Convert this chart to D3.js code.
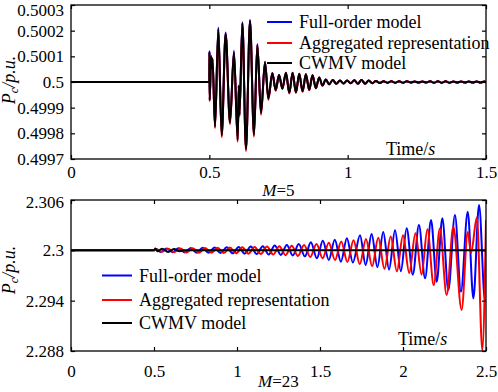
<!DOCTYPE html>
<html>
<head>
<meta charset="utf-8">
<script src="https://cdn.jsdelivr.net/npm/d3@7"></script>
<style>
  body { margin: 0; background: #fff; }
  svg text { font-family: 'Liberation Serif', 'Times New Roman', Times, serif; font-size: 17px; fill: #000; }
  svg text.big { font-size: 18px; }
</style>
</head>
<body>
<svg id="fig" width="498" height="392" font-family="Liberation Serif"></svg>
<script>
// ---------- top panel (M=5) : extremes ----------
const topT = [
  0, 0.5, 0.5005, 0.5012, 0.5065, 0.509, 0.5115, 0.5205, 0.5325, 0.5446,
  0.559, 0.5747, 0.589, 0.6024, 0.6065, 0.609, 0.6193, 0.6325, 0.647, 0.6614,
  0.6735, 0.6867, 0.7012, 0.7133, 0.7277, 0.7398, 0.752, 0.764, 0.777, 0.789,
  0.801, 0.813, 0.825, 0.837, 0.849, 0.861, 0.873, 0.885, 0.897, 0.909,
  0.921, 0.933, 0.946, 0.959, 0.972, 0.985, 0.998, 1.011, 1.024, 1.037,
  1.05, 1.063, 1.076, 1.089, 1.102, 1.116, 1.13, 1.144, 1.158, 1.172,
  1.186, 1.2, 1.214, 1.228, 1.242, 1.256, 1.27, 1.284, 1.298, 1.312,
  1.326, 1.34, 1.354, 1.368, 1.382, 1.396, 1.41, 1.424, 1.438, 1.452,
  1.466, 1.48, 1.494, 1.5];
const topCwmv = [
  0.5, 0.5, 0.500117, 0.49993, 0.500098, 0.500055, 0.50009, 0.499826, 0.500206, 0.499792,
  0.500188, 0.499842, 0.500115, 0.499774, 0.499985, 0.499872, 0.500229, 0.499739, 0.500238, 0.499794,
  0.500144, 0.499879, 0.500077, 0.499936, 0.500034, 0.499969, 0.500027, 0.499975, 0.500036, 0.499958,
  0.500036, 0.49996, 0.500032, 0.499964, 0.50003, 0.49997, 0.500026, 0.499976, 0.500018, 0.499986,
  0.50001, 0.499991, 0.500008, 0.499993, 0.500006, 0.499994, 0.500006, 0.499995, 0.500007, 0.499993,
  0.500008, 0.499993, 0.500006, 0.499995, 0.500004, 0.499996, 0.500003, 0.499997, 0.500003, 0.499997,
  0.500003, 0.499997, 0.500003, 0.499998, 0.500002, 0.499998, 0.500002, 0.499998, 0.500003, 0.499997,
  0.500003, 0.499997, 0.500003, 0.499997, 0.500002, 0.499998, 0.500002, 0.499998, 0.500002, 0.499998,
  0.500002, 0.499998, 0.500002, 0.5];
const topFull = [
  0.5, 0.5, 0.500121, 0.49993, 0.500102, 0.500055, 0.500093, 0.499828, 0.500212, 0.499795,
  0.500193, 0.499845, 0.500122, 0.499776, 0.499985, 0.499872, 0.500233, 0.499742, 0.500242, 0.499797,
  0.500148, 0.499881, 0.500079, 0.499937, 0.500035, 0.499969, 0.500027, 0.499975, 0.500036, 0.499958,
  0.500036, 0.49996, 0.500032, 0.499964, 0.50003, 0.49997, 0.500026, 0.499976, 0.500018, 0.499986,
  0.50001, 0.499991, 0.500008, 0.499993, 0.500006, 0.499994, 0.500006, 0.499995, 0.500007, 0.499993,
  0.500008, 0.499993, 0.500006, 0.499995, 0.500004, 0.499996, 0.500003, 0.499997, 0.500003, 0.499997,
  0.500003, 0.499997, 0.500003, 0.499998, 0.500002, 0.499998, 0.500002, 0.499998, 0.500003, 0.499997,
  0.500003, 0.499997, 0.500003, 0.499997, 0.500002, 0.499998, 0.500002, 0.499998, 0.500002, 0.499998,
  0.500002, 0.499998, 0.500002, 0.5];
const topAgg = [
  0.5, 0.5, 0.500115, 0.499925, 0.500097, 0.500055, 0.500089, 0.49982, 0.500204, 0.499785,
  0.500186, 0.499835, 0.500113, 0.499767, 0.499985, 0.499866, 0.500228, 0.499731, 0.500236, 0.499787,
  0.500146, 0.499872, 0.500076, 0.49993, 0.500034, 0.499966, 0.500027, 0.499973, 0.500036, 0.499955,
  0.500036, 0.499957, 0.500032, 0.499962, 0.50003, 0.499968, 0.500026, 0.499976, 0.500018, 0.499986,
  0.50001, 0.499991, 0.500008, 0.499993, 0.500006, 0.499994, 0.500006, 0.499995, 0.500007, 0.499993,
  0.500008, 0.499993, 0.500006, 0.499995, 0.500004, 0.499996, 0.500003, 0.499997, 0.500003, 0.499997,
  0.500003, 0.499997, 0.500003, 0.499998, 0.500002, 0.499998, 0.500002, 0.499998, 0.500003, 0.499997,
  0.500003, 0.499997, 0.500003, 0.499997, 0.500002, 0.499998, 0.500002, 0.499998, 0.500002, 0.499998,
  0.500002, 0.499998, 0.500002, 0.5];

const topXTicks = [0, 0.5, 1, 1.5];
const topXLabels = ["0", "0.5", "1", "1.5"];
const topYTicks = [0.4997, 0.4998, 0.4999, 0.5, 0.5001, 0.5002, 0.5003];
const topYLabels = ["0.4997", "0.4998", "0.4999", "0.5", "0.5001", "0.5002", "0.5003"];

// ---------- bottom panel (M=23) ----------
const botFullT = [
  0, 0.5, 0.512, 0.54, 0.576, 0.612, 0.648, 0.685, 0.721, 0.757,
  0.793, 0.829, 0.865, 0.901, 0.938, 0.974, 1.01, 1.046, 1.083, 1.119,
  1.155, 1.191, 1.227, 1.264, 1.3, 1.336, 1.372, 1.409, 1.445, 1.481,
  1.517, 1.553, 1.589, 1.626, 1.662, 1.698, 1.741, 1.775, 1.811, 1.846,
  1.881, 1.916, 1.952, 1.987, 2.022, 2.059, 2.096, 2.133, 2.169, 2.203,
  2.237, 2.273, 2.313, 2.349, 2.39, 2.424, 2.458, 2.494, 2.5];
const botFull = [
  2.3, 2.3, 2.30015, 2.2998, 2.30022, 2.29978, 2.30025, 2.29975, 2.30028, 2.29972,
  2.3003, 2.2997, 2.30033, 2.29967, 2.30036, 2.29964, 2.3004, 2.2996, 2.30045, 2.29955,
  2.3005, 2.2995, 2.30058, 2.29945, 2.30065, 2.29938, 2.30075, 2.29928, 2.30095, 2.29905,
  2.30115, 2.29885, 2.30125, 2.29864, 2.30145, 2.29855, 2.3018, 2.29825, 2.30195, 2.298,
  2.3022, 2.2977, 2.3024, 2.2975, 2.30262, 2.2971, 2.30302, 2.29666, 2.30361, 2.29626,
  2.30382, 2.29526, 2.30421, 2.29506, 2.30461, 2.29427, 2.3054, 2.29407, 2.2941];

const botAggT = [
  0, 0.5, 0.515, 0.5475, 0.585, 0.622, 0.659, 0.6965, 0.734, 0.771,
  0.808, 0.8455, 0.883, 0.92, 0.957, 0.9945, 1.032, 1.069, 1.106, 1.1435,
  1.181, 1.218, 1.255, 1.2925, 1.33, 1.367, 1.404, 1.4415, 1.479, 1.516,
  1.553, 1.5905, 1.628, 1.665, 1.702, 1.7395, 1.777, 1.814, 1.851, 1.8885,
  1.926, 1.963, 2.0, 2.0375, 2.075, 2.112, 2.147, 2.185, 2.222, 2.263,
  2.303, 2.353, 2.39, 2.41, 2.445, 2.478, 2.5];
const botAgg = [
  2.3, 2.3, 2.30012, 2.29982, 2.3002, 2.29978, 2.30022, 2.29975, 2.30025, 2.29972,
  2.30028, 2.2997, 2.3003, 2.29967, 2.30033, 2.29964, 2.30036, 2.2996, 2.3004, 2.29955,
  2.30045, 2.2995, 2.3005, 2.29942, 2.30055, 2.29932, 2.30065, 2.2992, 2.30075, 2.29905,
  2.3009, 2.29885, 2.30105, 2.2986, 2.3012, 2.29835, 2.30135, 2.2981, 2.3015, 2.2978,
  2.30165, 2.2975, 2.3018, 2.2973, 2.30205, 2.2971, 2.3025, 2.29586, 2.3026, 2.29467,
  2.3028, 2.2929, 2.3022, 2.2997, 2.3039, 2.2881, 2.3036];

const botCwmvT = [0, 0.5, 0.508, 0.522, 0.548, 0.585, 0.62, 0.655, 0.68, 2.5];
const botCwmv = [2.3, 2.3, 2.30022, 2.29988, 2.3002, 2.2998, 2.30016, 2.2999, 2.3, 2.3];

const botXTicks = [0, 0.5, 1, 1.5, 2, 2.5];
const botXLabels = ["0", "0.5", "1", "1.5", "2", "2.5"];
const botYTicks = [2.288, 2.294, 2.3, 2.306];
const botYLabels = ["2.288", "2.294", "2.3", "2.306"];

const legendNames = ["Full-order model", "Aggregated representation", "CWMV model"];
const colors = ["#0000ff", "#ff0000", "#000000"];

const svg = d3.select("#fig");

function zip(ts, vs) { return ts.map((t, i) => [t, vs[i]]); }

function drawPanel(p) {
  const x = d3.scaleLinear().domain(p.xDomain).range([p.left, p.right]);
  const y = d3.scaleLinear().domain(p.yDomain).range([p.bottom, p.top]);
  const g = svg.append("g");

  const clipId = "clip" + p.id;
  g.append("clipPath").attr("id", clipId)
    .append("rect")
    .attr("x", p.left).attr("y", p.top)
    .attr("width", p.right - p.left).attr("height", p.bottom - p.top);

  // curves
  const line = d3.line().x(d => x(d[0])).y(d => y(d[1])).curve(d3.curveMonotoneX);
  const lines = g.append("g").attr("clip-path", "url(#" + clipId + ")");
  p.series.forEach((s, i) => {
    lines.append("path")
      .attr("d", line(zip(s.t, s.v)))
      .attr("fill", "none")
      .attr("stroke", colors[i])
      .attr("stroke-width", 2)
      .attr("stroke-linejoin", "round");
  });

  // axes, ticks pointing in
  const ax = g.append("g").attr("transform", "translate(0," + p.bottom + ")")
    .call(d3.axisBottom(x).tickValues(p.xTicks).tickSize(-4).tickPadding(p.xPad)
      .tickFormat((d, i) => p.xLabels[i]));
  const ay = g.append("g").attr("transform", "translate(" + p.left + ",0)")
    .call(d3.axisLeft(y).tickValues(p.yTicks).tickSize(-4).tickPadding(7)
      .tickFormat((d, i) => p.yLabels[i]));
  const at = g.append("g").attr("transform", "translate(0," + p.top + ")")
    .call(d3.axisTop(x).tickValues(p.xTicks).tickSize(-4).tickFormat(""));
  const ar = g.append("g").attr("transform", "translate(" + p.right + ",0)")
    .call(d3.axisRight(y).tickValues(p.yTicks).tickSize(-4).tickFormat(""));
  [ax, ay, at, ar].forEach(a => {
    a.attr("font-family", null).attr("font-size", null);
    a.select(".domain").remove();
    a.selectAll("line").attr("stroke", "#000").attr("stroke-width", 1.2);
    a.selectAll("text").attr("fill", "#000");
  });
  // the top label sits a bit low in the original, it has no room above
  ay.selectAll("text").filter((d, i) => i === p.yTicks.length - 1).attr("dy", p.firstDy);

  g.append("rect")
    .attr("x", p.left).attr("y", p.top)
    .attr("width", p.right - p.left).attr("height", p.bottom - p.top)
    .attr("fill", "none").attr("stroke", "#000").attr("stroke-width", 1.3);

  // legend
  legendNames.forEach((name, i) => {
    const ry = p.legendRows[i];
    g.append("line")
      .attr("x1", p.legendX).attr("x2", p.legendX + p.legendLen)
      .attr("y1", ry).attr("y2", ry)
      .attr("stroke", colors[i]).attr("stroke-width", 2);
    g.append("text").attr("class", "big")
      .attr("x", p.legendX + p.legendLen + 7).attr("y", ry + 6)
      .text(name);
  });

  // Time/s
  const tl = g.append("text").attr("class", "big").attr("x", p.timeX).attr("y", p.timeY);
  tl.append("tspan").text("Time/");
  tl.append("tspan").attr("font-style", "italic").text("s");

  // M = ...
  const ml = g.append("text").attr("x", (p.left + p.right) / 2).attr("y", p.mY)
    .attr("text-anchor", "middle");
  ml.append("tspan").attr("font-style", "italic").text("M");
  ml.append("tspan").text("=" + p.mVal);

  // y label
  const yl = g.append("text").attr("class", "big")
    .attr("transform", "translate(15," + p.yLabelY + ") rotate(-90)")
    .attr("text-anchor", "middle")
    .attr("font-style", "italic");
  yl.append("tspan").text("P");
  yl.append("tspan").style("font-size", "12px").attr("dy", 3).text("c");
  yl.append("tspan").attr("dy", -3).text("/p.u.");
}

drawPanel({
  id: "top", left: 71, right: 486, top: 5, bottom: 159,
  xDomain: [0, 1.5], yDomain: [0.4997, 0.5003],
  xTicks: topXTicks, xLabels: topXLabels, yTicks: topYTicks, yLabels: topYLabels,
  xPad: 7, firstDy: "0.62em",
  series: [
    { t: topT, v: topFull },
    { t: topT, v: topAgg },
    { t: topT, v: topCwmv }
  ],
  legendX: 267, legendLen: 25, legendRows: [22, 43, 63],
  timeX: 386, timeY: 155, mY: 196, mVal: "5", yLabelY: 80
});

drawPanel({
  id: "bot", left: 71, right: 486, top: 200, bottom: 351,
  xDomain: [0, 2.5], yDomain: [2.288, 2.306],
  xTicks: botXTicks, xLabels: botXLabels, yTicks: botYTicks, yLabels: botYLabels,
  xPad: 14, firstDy: "0.45em",
  series: [
    { t: botFullT, v: botFull },
    { t: botAggT, v: botAgg },
    { t: botCwmvT, v: botCwmv }
  ],
  legendX: 102, legendLen: 30, legendRows: [275.5, 300, 323],
  timeX: 398, timeY: 345, mY: 387, mVal: "23", yLabelY: 270
});
</script>
</body>
</html>
